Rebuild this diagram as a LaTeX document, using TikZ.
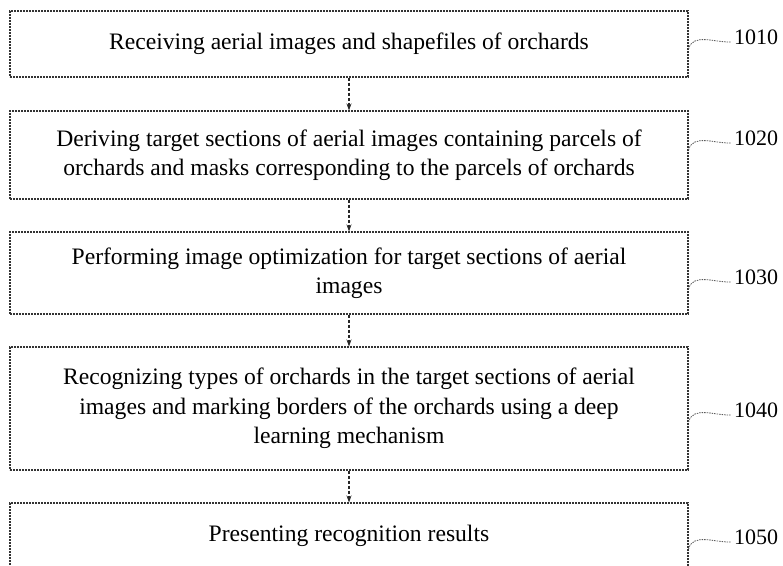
\documentclass[tikz,border=0pt]{standalone}
\usepackage{fontspec}
\setmainfont{Liberation Serif}
\usetikzlibrary{arrows.meta}

\begin{document}
\begin{tikzpicture}[x=1pt, y=-1pt,
    every node/.style={font=\fontsize{23.6}{29.5}\selectfont},
    stepbox/.style={draw=black!80, dash pattern=on 2pt off 1pt, line width=1.1pt,
      minimum width=678pt, align=center, inner sep=0pt},
    flow/.style={draw=black!85, dash pattern=on 3pt off 2pt, line width=1.1pt,
      -{Stealth[length=7pt, width=5pt]}},
    lead/.style={draw=black!65, dash pattern=on 1.5pt off 1pt, line width=0.8pt},
    tag/.style={anchor=west, inner sep=0pt, font=\fontsize{22}{26}\selectfont}]
  \clip (0,0) rectangle (783,565);
  \def\bx{349}

  % process steps
  \node[stepbox, minimum height=66pt] (b1) at (\bx,44)
    {Receiving aerial images and shapefiles of orchards};
  \node[stepbox, minimum height=88pt] (b2) at (\bx,155)
    {Deriving target sections of aerial images containing parcels of\\
     orchards and masks corresponding to the parcels of orchards};
  \node[stepbox, minimum height=82pt] (b3) at (\bx,273)
    {Performing image optimization for target sections of aerial\\ images};
  \node[stepbox, minimum height=123pt] (b4) at (\bx,408.5)
    {Recognizing types of orchards in the target sections of aerial\\
     images and marking borders of the orchards using a deep\\
     learning mechanism};
  \node[stepbox, minimum height=66pt] (b5) at (\bx,536)
    {Presenting recognition results};

  \foreach \i [evaluate=\i as \j using int(\i+1)] in {1,...,4}
    \draw[flow] (b\i.south) -- (b\j.north);

  % reference numerals
  \foreach \i/\y in {1/37, 2/138, 3/277, 4/410, 5/537} {
    \node[tag] (l\i) at (734,\y) {10\i0};
    \coordinate (e\i) at (b\i.east |- 0,\y+12);
    \draw[lead] (e\i) to[out=75, in=182] ([xshift=-3pt, yshift=-5pt]l\i.west);
  }
\end{tikzpicture}
\end{document}
